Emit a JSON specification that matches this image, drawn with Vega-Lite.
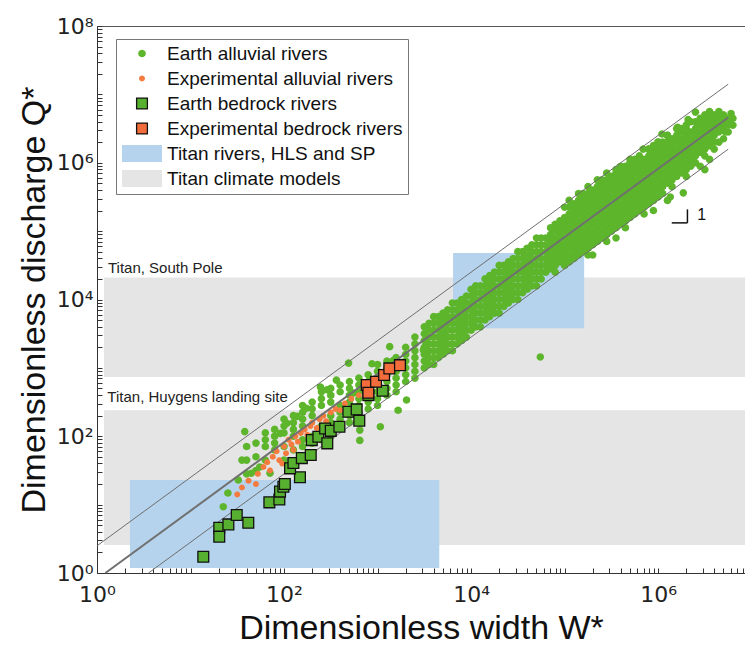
{
"$schema":"https://vega.github.io/schema/vega-lite/v6.json",
"width":648,"height":547,
"autosize":{"type":"none"},
"padding":{"left":97,"top":26,"right":0,"bottom":83},
"config":{"font":"Liberation Sans","view":{"stroke":"#555","strokeWidth":1},"axis":{"labelFont":"DejaVu Sans","titleFont":"Liberation Sans"}},
"datasets":{
"rects":[
{"s":"TC","w":1.19,"w2":8.5e6,"q":735,"q2":2.1e4},
{"s":"TC","w":1.19,"w2":8.5e6,"q":2.57,"q2":240},
{"s":"TR","w":2.25,"w2":4570,"q":1.18,"q2":22.9},
{"s":"TR","w":6420,"w2":1.62e5,"q":3810,"q2":4.8e4}
],
"labels":[
{"label":"Titan, South Pole","w":1.31,"q":2.88e4},
{"label":"Titan, Huygens landing site","w":1.29,"q":374}
],
"lines":[
{"line":"upper","w":1,"q":2.5},{"line":"upper","w":5.62e6,"q":1.41e7},
{"line":"middle","w":1.23,"q":1},{"line":"middle","w":5.62e6,"q":4.6e6},
{"line":"lower","w":3.55,"q":1},{"line":"lower","w":5.62e6,"q":1.58e6}
],
"slope":[
{"w":1.40e6,"w2":2.06e6,"q":1.32e5,"q2":1.32e5},
{"w":2.06e6,"w2":2.06e6,"q":1.32e5,"q2":2.08e5}
],
"slopetext":[{"t":"1","w":2.63e6,"q":1.71e5}],
"bedrock":[
{"s":"EB","w":13.7,"q":1.73},{"s":"EB","w":20.3,"q":4.59},{"s":"EB","w":20.3,"q":3.40},{"s":"EB","w":25.4,"q":5.14},{"s":"EB","w":31.2,"q":7.05},{"s":"EB","w":41.5,"q":5.43},{"s":"EB","w":69.7,"q":10.8},{"s":"EB","w":89.1,"q":11.9},{"s":"EB","w":90.6,"q":15.5},{"s":"EB","w":98.4,"q":18.3},{"s":"EB","w":102,"q":20.0},{"s":"EB","w":148,"q":25.1},{"s":"EB","w":116,"q":33.9},{"s":"EB","w":126,"q":40.7},{"s":"EB","w":155,"q":47.9},{"s":"EB","w":193,"q":53.1},{"s":"EB","w":198,"q":87.9},{"s":"EB","w":233,"q":98.4},{"s":"EB","w":290,"q":78.7},{"s":"EB","w":275,"q":130},{"s":"EB","w":316,"q":120},{"s":"EB","w":391,"q":138},{"s":"EB","w":488,"q":228},{"s":"EB","w":598,"q":247},{"s":"EB","w":638,"q":169},{"s":"EB","w":798,"q":400},{"s":"EB","w":1135,"q":462},
{"s":"XB","w":766,"q":561},{"s":"XB","w":964,"q":627},{"s":"XB","w":1175,"q":785},{"s":"XB","w":1337,"q":982},{"s":"XB","w":1738,"q":1096},{"s":"XB","w":798,"q":433}
],
"alluvial":[
{"s":"EA","w":22.4,"q":9.33},{"s":"EA","w":25.1,"q":14.8},{"s":"EA","w":32.4,"q":22.9},{"s":"EA","w":35.5,"q":44.7},{"s":"EA","w":38.0,"q":117},{"s":"EA","w":44.7,"q":28.8},{"s":"EA","w":55.0,"q":35.5},{"s":"EA","w":70.8,"q":28.8},{"s":"EA","w":91.2,"q":110},{"s":"EA","w":107,"q":155},{"s":"EA","w":138,"q":195},{"s":"EA","w":174,"q":257},{"s":"EA","w":245,"q":525},{"s":"EA","w":288,"q":479},{"s":"EA","w":363,"q":661},{"s":"EA","w":490,"q":1175},{"s":"EA","w":550,"q":427},{"s":"EA","w":646,"q":123},{"s":"EA","w":646,"q":87.1},{"s":"EA","w":871,"q":1148},{"s":"EA","w":1072,"q":138},{"s":"EA","w":1349,"q":2042},{"s":"EA","w":1479,"q":1288},{"s":"EA","w":1660,"q":240},{"s":"EA","w":2042,"q":339},{"s":"EA","w":3090,"q":1820},{"s":"EA","w":5.5e4,"q":1445},
{"s":"EA","w":39.8,"q":28.2},{"s":"EA","w":39.8,"q":44.7},{"s":"EA","w":39.8,"q":70.8},
{"s":"EA","w":50.1,"q":31.6},{"s":"EA","w":50.1,"q":50.1},{"s":"EA","w":50.1,"q":79.4},
{"s":"EA","w":63.1,"q":44.7},{"s":"EA","w":63.1,"q":70.8},{"s":"EA","w":63.1,"q":89.1},{"s":"EA","w":63.1,"q":112},
{"s":"EA","w":79.4,"q":63.1},{"s":"EA","w":79.4,"q":79.4},{"s":"EA","w":79.4,"q":100},{"s":"EA","w":79.4,"q":126},
{"s":"EA","w":100,"q":44.7},{"s":"EA","w":100,"q":70.8},{"s":"EA","w":100,"q":112},{"s":"EA","w":100,"q":141},{"s":"EA","w":100,"q":178},
{"s":"EA","w":126,"q":63.1},{"s":"EA","w":126,"q":100},{"s":"EA","w":126,"q":126},{"s":"EA","w":126,"q":158},{"s":"EA","w":126,"q":200},
{"s":"EA","w":158,"q":70.8},{"s":"EA","w":158,"q":89.1},{"s":"EA","w":158,"q":141},{"s":"EA","w":158,"q":178},{"s":"EA","w":158,"q":224},{"s":"EA","w":158,"q":282},
{"s":"EA","w":200,"q":79.4},{"s":"EA","w":200,"q":100},{"s":"EA","w":200,"q":200},{"s":"EA","w":200,"q":251},{"s":"EA","w":200,"q":316},
{"s":"EA","w":251,"q":89.1},{"s":"EA","w":251,"q":112},{"s":"EA","w":251,"q":141},{"s":"EA","w":251,"q":282},{"s":"EA","w":251,"q":355},{"s":"EA","w":251,"q":447},
{"s":"EA","w":316,"q":100},{"s":"EA","w":316,"q":126},{"s":"EA","w":316,"q":158},{"s":"EA","w":316,"q":200},{"s":"EA","w":316,"q":316},{"s":"EA","w":316,"q":398},{"s":"EA","w":316,"q":501},
{"s":"EA","w":398,"q":141},{"s":"EA","w":398,"q":178},{"s":"EA","w":398,"q":224},{"s":"EA","w":398,"q":282},{"s":"EA","w":398,"q":447},{"s":"EA","w":398,"q":562},
{"s":"EA","w":501,"q":158},{"s":"EA","w":501,"q":200},{"s":"EA","w":501,"q":251},{"s":"EA","w":501,"q":316},{"s":"EA","w":501,"q":398},{"s":"EA","w":501,"q":501},{"s":"EA","w":501,"q":631},
{"s":"EA","w":631,"q":178},{"s":"EA","w":631,"q":224},{"s":"EA","w":631,"q":282},{"s":"EA","w":631,"q":355},{"s":"EA","w":631,"q":447},{"s":"EA","w":631,"q":562},{"s":"EA","w":631,"q":708},
{"s":"EA","w":794,"q":251},{"s":"EA","w":794,"q":316},{"s":"EA","w":794,"q":398},{"s":"EA","w":794,"q":501},{"s":"EA","w":794,"q":631},{"s":"EA","w":794,"q":794},
{"s":"EA","w":1000,"q":282},{"s":"EA","w":1000,"q":355},{"s":"EA","w":1000,"q":447},{"s":"EA","w":1000,"q":562},{"s":"EA","w":1000,"q":708},{"s":"EA","w":1000,"q":891},{"s":"EA","w":1000,"q":1120},
{"s":"EA","w":1260,"q":398},{"s":"EA","w":1260,"q":501},{"s":"EA","w":1260,"q":631},{"s":"EA","w":1260,"q":794},{"s":"EA","w":1260,"q":1000},{"s":"EA","w":1260,"q":1260},
{"s":"EA","w":1580,"q":447},{"s":"EA","w":1580,"q":562},{"s":"EA","w":1580,"q":708},{"s":"EA","w":1580,"q":891},{"s":"EA","w":1580,"q":1120},{"s":"EA","w":1580,"q":1410},
{"s":"EA","w":2000,"q":631},{"s":"EA","w":2000,"q":794},{"s":"EA","w":2000,"q":1000},{"s":"EA","w":2000,"q":1260},{"s":"EA","w":2000,"q":1580},{"s":"EA","w":2000,"q":2000},
{"s":"EA","w":2510,"q":708},{"s":"EA","w":2510,"q":891},{"s":"EA","w":2510,"q":1120},{"s":"EA","w":2510,"q":1410},{"s":"EA","w":2510,"q":1780},{"s":"EA","w":2510,"q":2240},{"s":"EA","w":2510,"q":2820},
{"s":"EA","w":3160,"q":1000},{"s":"EA","w":3160,"q":1260},{"s":"EA","w":3160,"q":1580},{"s":"EA","w":3160,"q":2000},{"s":"EA","w":3160,"q":2510},{"s":"EA","w":3160,"q":3160},{"s":"EA","w":3160,"q":3980},
{"s":"EA","w":3550,"q":1120},{"s":"EA","w":3550,"q":1410},{"s":"EA","w":3550,"q":1780},{"s":"EA","w":3550,"q":2240},{"s":"EA","w":3550,"q":2820},{"s":"EA","w":3550,"q":3550},{"s":"EA","w":3550,"q":4470},
{"s":"EA","w":3980,"q":1120},{"s":"EA","w":3980,"q":1410},{"s":"EA","w":3980,"q":1780},{"s":"EA","w":3980,"q":2240},{"s":"EA","w":3980,"q":2820},{"s":"EA","w":3980,"q":3550},{"s":"EA","w":3980,"q":4470},{"s":"EA","w":3980,"q":5620},
{"s":"EA","w":4470,"q":1410},{"s":"EA","w":4470,"q":1780},{"s":"EA","w":4470,"q":2240},{"s":"EA","w":4470,"q":2820},{"s":"EA","w":4470,"q":3550},{"s":"EA","w":4470,"q":4470},{"s":"EA","w":4470,"q":5620},
{"s":"EA","w":5010,"q":1580},{"s":"EA","w":5010,"q":2000},{"s":"EA","w":5010,"q":2510},{"s":"EA","w":5010,"q":3160},{"s":"EA","w":5010,"q":3980},{"s":"EA","w":5010,"q":5010},{"s":"EA","w":5010,"q":6310},
{"s":"EA","w":5620,"q":1780},{"s":"EA","w":5620,"q":2240},{"s":"EA","w":5620,"q":2820},{"s":"EA","w":5620,"q":3550},{"s":"EA","w":5620,"q":4470},{"s":"EA","w":5620,"q":5620},{"s":"EA","w":5620,"q":7080},
{"s":"EA","w":6310,"q":1780},{"s":"EA","w":6310,"q":2240},{"s":"EA","w":6310,"q":2820},{"s":"EA","w":6310,"q":3550},{"s":"EA","w":6310,"q":4470},{"s":"EA","w":6310,"q":5620},{"s":"EA","w":6310,"q":7080},{"s":"EA","w":6310,"q":8910},
{"s":"EA","w":7080,"q":2240},{"s":"EA","w":7080,"q":2820},{"s":"EA","w":7080,"q":3550},{"s":"EA","w":7080,"q":4470},{"s":"EA","w":7080,"q":5620},{"s":"EA","w":7080,"q":7080},{"s":"EA","w":7080,"q":8910},
{"s":"EA","w":7940,"q":2510},{"s":"EA","w":7940,"q":3160},{"s":"EA","w":7940,"q":3980},{"s":"EA","w":7940,"q":5010},{"s":"EA","w":7940,"q":6310},{"s":"EA","w":7940,"q":7940},{"s":"EA","w":7940,"q":10000},
{"s":"EA","w":8910,"q":2820},{"s":"EA","w":8910,"q":3550},{"s":"EA","w":8910,"q":4470},{"s":"EA","w":8910,"q":5620},{"s":"EA","w":8910,"q":7080},{"s":"EA","w":8910,"q":8910},{"s":"EA","w":8910,"q":11200},
{"s":"EA","w":10000,"q":3550},{"s":"EA","w":10000,"q":4470},{"s":"EA","w":10000,"q":5620},{"s":"EA","w":10000,"q":7080},{"s":"EA","w":10000,"q":8910},{"s":"EA","w":10000,"q":11200},{"s":"EA","w":10000,"q":14100},
{"s":"EA","w":11200,"q":3980},{"s":"EA","w":11200,"q":5010},{"s":"EA","w":11200,"q":6310},{"s":"EA","w":11200,"q":7940},{"s":"EA","w":11200,"q":10000},{"s":"EA","w":11200,"q":12600},{"s":"EA","w":11200,"q":15800},
{"s":"EA","w":12600,"q":3980},{"s":"EA","w":12600,"q":5010},{"s":"EA","w":12600,"q":6310},{"s":"EA","w":12600,"q":7940},{"s":"EA","w":12600,"q":10000},{"s":"EA","w":12600,"q":12600},{"s":"EA","w":12600,"q":15800},
{"s":"EA","w":14100,"q":5010},{"s":"EA","w":14100,"q":6310},{"s":"EA","w":14100,"q":7940},{"s":"EA","w":14100,"q":10000},{"s":"EA","w":14100,"q":12600},{"s":"EA","w":14100,"q":15800},{"s":"EA","w":14100,"q":20000},
{"s":"EA","w":15800,"q":5620},{"s":"EA","w":15800,"q":7080},{"s":"EA","w":15800,"q":8910},{"s":"EA","w":15800,"q":11200},{"s":"EA","w":15800,"q":14100},{"s":"EA","w":15800,"q":17800},{"s":"EA","w":15800,"q":22400},
{"s":"EA","w":17800,"q":6310},{"s":"EA","w":17800,"q":7940},{"s":"EA","w":17800,"q":10000},{"s":"EA","w":17800,"q":12600},{"s":"EA","w":17800,"q":15800},{"s":"EA","w":17800,"q":20000},{"s":"EA","w":17800,"q":25100},
{"s":"EA","w":20000,"q":6310},{"s":"EA","w":20000,"q":7940},{"s":"EA","w":20000,"q":10000},{"s":"EA","w":20000,"q":12600},{"s":"EA","w":20000,"q":15800},{"s":"EA","w":20000,"q":20000},{"s":"EA","w":20000,"q":25100},{"s":"EA","w":20000,"q":31600},
{"s":"EA","w":22400,"q":7940},{"s":"EA","w":22400,"q":10000},{"s":"EA","w":22400,"q":12600},{"s":"EA","w":22400,"q":15800},{"s":"EA","w":22400,"q":20000},{"s":"EA","w":22400,"q":25100},{"s":"EA","w":22400,"q":31600},
{"s":"EA","w":25100,"q":8910},{"s":"EA","w":25100,"q":11200},{"s":"EA","w":25100,"q":14100},{"s":"EA","w":25100,"q":17800},{"s":"EA","w":25100,"q":22400},{"s":"EA","w":25100,"q":28200},{"s":"EA","w":25100,"q":35500},
{"s":"EA","w":28200,"q":10000},{"s":"EA","w":28200,"q":12600},{"s":"EA","w":28200,"q":15800},{"s":"EA","w":28200,"q":20000},{"s":"EA","w":28200,"q":25100},{"s":"EA","w":28200,"q":31600},{"s":"EA","w":28200,"q":39800},
{"s":"EA","w":31600,"q":10000},{"s":"EA","w":31600,"q":12600},{"s":"EA","w":31600,"q":15800},{"s":"EA","w":31600,"q":20000},{"s":"EA","w":31600,"q":25100},{"s":"EA","w":31600,"q":31600},{"s":"EA","w":31600,"q":39800},{"s":"EA","w":31600,"q":50100},
{"s":"EA","w":35500,"q":12600},{"s":"EA","w":35500,"q":15800},{"s":"EA","w":35500,"q":20000},{"s":"EA","w":35500,"q":25100},{"s":"EA","w":35500,"q":31600},{"s":"EA","w":35500,"q":39800},{"s":"EA","w":35500,"q":50100},
{"s":"EA","w":39800,"q":14100},{"s":"EA","w":39800,"q":17800},{"s":"EA","w":39800,"q":22400},{"s":"EA","w":39800,"q":28200},{"s":"EA","w":39800,"q":35500},{"s":"EA","w":39800,"q":44700},{"s":"EA","w":39800,"q":56200},
{"s":"EA","w":44700,"q":15800},{"s":"EA","w":44700,"q":20000},{"s":"EA","w":44700,"q":25100},{"s":"EA","w":44700,"q":31600},{"s":"EA","w":44700,"q":39800},{"s":"EA","w":44700,"q":50100},{"s":"EA","w":44700,"q":63100},
{"s":"EA","w":50100,"q":15800},{"s":"EA","w":50100,"q":20000},{"s":"EA","w":50100,"q":25100},{"s":"EA","w":50100,"q":31600},{"s":"EA","w":50100,"q":39800},{"s":"EA","w":50100,"q":50100},{"s":"EA","w":50100,"q":63100},{"s":"EA","w":50100,"q":79400},
{"s":"EA","w":56200,"q":20000},{"s":"EA","w":56200,"q":25100},{"s":"EA","w":56200,"q":31600},{"s":"EA","w":56200,"q":39800},{"s":"EA","w":56200,"q":50100},{"s":"EA","w":56200,"q":63100},{"s":"EA","w":56200,"q":79400},
{"s":"EA","w":6.31e4,"q":2.51e4},{"s":"EA","w":6.31e4,"q":3.16e4},{"s":"EA","w":6.31e4,"q":3.98e4},{"s":"EA","w":6.31e4,"q":5.01e4},{"s":"EA","w":6.31e4,"q":6.31e4},{"s":"EA","w":6.31e4,"q":7.94e4},
{"s":"EA","w":7.08e4,"q":2.82e4},{"s":"EA","w":7.08e4,"q":3.55e4},{"s":"EA","w":7.08e4,"q":4.47e4},{"s":"EA","w":7.08e4,"q":5.62e4},{"s":"EA","w":7.08e4,"q":7.08e4},{"s":"EA","w":7.08e4,"q":8.91e4},{"s":"EA","w":7.08e4,"q":1.12e5},
{"s":"EA","w":7.94e4,"q":2.51e4},{"s":"EA","w":7.94e4,"q":3.16e4},{"s":"EA","w":7.94e4,"q":3.98e4},{"s":"EA","w":7.94e4,"q":5.01e4},{"s":"EA","w":7.94e4,"q":6.31e4},{"s":"EA","w":7.94e4,"q":7.94e4},{"s":"EA","w":7.94e4,"q":1e5},{"s":"EA","w":7.94e4,"q":1.26e5},
{"s":"EA","w":8.91e4,"q":3.55e4},{"s":"EA","w":8.91e4,"q":4.47e4},{"s":"EA","w":8.91e4,"q":5.62e4},{"s":"EA","w":8.91e4,"q":7.08e4},{"s":"EA","w":8.91e4,"q":8.91e4},{"s":"EA","w":8.91e4,"q":1.12e5},{"s":"EA","w":8.91e4,"q":1.41e5},
{"s":"EA","w":1e5,"q":3.16e4},{"s":"EA","w":1e5,"q":3.98e4},{"s":"EA","w":1e5,"q":5.01e4},{"s":"EA","w":1e5,"q":6.31e4},{"s":"EA","w":1e5,"q":7.94e4},{"s":"EA","w":1e5,"q":1e5},{"s":"EA","w":1e5,"q":1.26e5},{"s":"EA","w":1e5,"q":1.58e5},
{"s":"EA","w":1.12e5,"q":3.55e4},{"s":"EA","w":1.12e5,"q":4.47e4},{"s":"EA","w":1.12e5,"q":5.62e4},{"s":"EA","w":1.12e5,"q":7.08e4},{"s":"EA","w":1.12e5,"q":8.91e4},{"s":"EA","w":1.12e5,"q":1.12e5},{"s":"EA","w":1.12e5,"q":1.41e5},{"s":"EA","w":1.12e5,"q":1.78e5},{"s":"EA","w":1.12e5,"q":2.24e5},
{"s":"EA","w":1.26e5,"q":3.98e4},{"s":"EA","w":1.26e5,"q":5.01e4},{"s":"EA","w":1.26e5,"q":6.31e4},{"s":"EA","w":1.26e5,"q":7.94e4},{"s":"EA","w":1.26e5,"q":1e5},{"s":"EA","w":1.26e5,"q":1.26e5},{"s":"EA","w":1.26e5,"q":1.58e5},{"s":"EA","w":1.26e5,"q":2e5},{"s":"EA","w":1.26e5,"q":2.51e5},
{"s":"EA","w":1.41e5,"q":4.47e4},{"s":"EA","w":1.41e5,"q":5.62e4},{"s":"EA","w":1.41e5,"q":7.08e4},{"s":"EA","w":1.41e5,"q":8.91e4},{"s":"EA","w":1.41e5,"q":1.12e5},{"s":"EA","w":1.41e5,"q":1.41e5},{"s":"EA","w":1.41e5,"q":1.78e5},{"s":"EA","w":1.41e5,"q":2.24e5},{"s":"EA","w":1.41e5,"q":2.82e5},
{"s":"EA","w":1.58e5,"q":5.01e4},{"s":"EA","w":1.58e5,"q":6.31e4},{"s":"EA","w":1.58e5,"q":7.94e4},{"s":"EA","w":1.58e5,"q":1e5},{"s":"EA","w":1.58e5,"q":1.26e5},{"s":"EA","w":1.58e5,"q":1.58e5},{"s":"EA","w":1.58e5,"q":2e5},{"s":"EA","w":1.58e5,"q":2.51e5},{"s":"EA","w":1.58e5,"q":3.16e5},
{"s":"EA","w":1.78e5,"q":4.47e4},{"s":"EA","w":1.78e5,"q":5.62e4},{"s":"EA","w":1.78e5,"q":7.08e4},{"s":"EA","w":1.78e5,"q":8.91e4},{"s":"EA","w":1.78e5,"q":1.12e5},{"s":"EA","w":1.78e5,"q":1.41e5},{"s":"EA","w":1.78e5,"q":1.78e5},{"s":"EA","w":1.78e5,"q":2.24e5},{"s":"EA","w":1.78e5,"q":2.82e5},{"s":"EA","w":1.78e5,"q":3.55e5},
{"s":"EA","w":2e5,"q":6.31e4},{"s":"EA","w":2e5,"q":7.94e4},{"s":"EA","w":2e5,"q":1e5},{"s":"EA","w":2e5,"q":1.26e5},{"s":"EA","w":2e5,"q":1.58e5},{"s":"EA","w":2e5,"q":2e5},{"s":"EA","w":2e5,"q":2.51e5},{"s":"EA","w":2e5,"q":3.16e5},{"s":"EA","w":2e5,"q":3.98e5},
{"s":"EA","w":2.24e5,"q":7.08e4},{"s":"EA","w":2.24e5,"q":8.91e4},{"s":"EA","w":2.24e5,"q":1.12e5},{"s":"EA","w":2.24e5,"q":1.41e5},{"s":"EA","w":2.24e5,"q":1.78e5},{"s":"EA","w":2.24e5,"q":2.24e5},{"s":"EA","w":2.24e5,"q":2.82e5},{"s":"EA","w":2.24e5,"q":3.55e5},{"s":"EA","w":2.24e5,"q":4.47e5},
{"s":"EA","w":2.51e5,"q":7.94e4},{"s":"EA","w":2.51e5,"q":1e5},{"s":"EA","w":2.51e5,"q":1.26e5},{"s":"EA","w":2.51e5,"q":1.58e5},{"s":"EA","w":2.51e5,"q":2e5},{"s":"EA","w":2.51e5,"q":2.51e5},{"s":"EA","w":2.51e5,"q":3.16e5},{"s":"EA","w":2.51e5,"q":3.98e5},{"s":"EA","w":2.51e5,"q":5.01e5},
{"s":"EA","w":2.82e5,"q":7.08e4},{"s":"EA","w":2.82e5,"q":8.91e4},{"s":"EA","w":2.82e5,"q":1.12e5},{"s":"EA","w":2.82e5,"q":1.41e5},{"s":"EA","w":2.82e5,"q":1.78e5},{"s":"EA","w":2.82e5,"q":2.24e5},{"s":"EA","w":2.82e5,"q":2.82e5},{"s":"EA","w":2.82e5,"q":3.55e5},{"s":"EA","w":2.82e5,"q":4.47e5},{"s":"EA","w":2.82e5,"q":5.62e5},
{"s":"EA","w":3.16e5,"q":1e5},{"s":"EA","w":3.16e5,"q":1.26e5},{"s":"EA","w":3.16e5,"q":1.58e5},{"s":"EA","w":3.16e5,"q":2e5},{"s":"EA","w":3.16e5,"q":2.51e5},{"s":"EA","w":3.16e5,"q":3.16e5},{"s":"EA","w":3.16e5,"q":3.98e5},{"s":"EA","w":3.16e5,"q":5.01e5},{"s":"EA","w":3.16e5,"q":6.31e5},
{"s":"EA","w":3.55e5,"q":1.12e5},{"s":"EA","w":3.55e5,"q":1.41e5},{"s":"EA","w":3.55e5,"q":1.78e5},{"s":"EA","w":3.55e5,"q":2.24e5},{"s":"EA","w":3.55e5,"q":2.82e5},{"s":"EA","w":3.55e5,"q":3.55e5},{"s":"EA","w":3.55e5,"q":4.47e5},{"s":"EA","w":3.55e5,"q":5.62e5},{"s":"EA","w":3.55e5,"q":7.08e5},
{"s":"EA","w":3.98e5,"q":1.26e5},{"s":"EA","w":3.98e5,"q":1.58e5},{"s":"EA","w":3.98e5,"q":2e5},{"s":"EA","w":3.98e5,"q":2.51e5},{"s":"EA","w":3.98e5,"q":3.16e5},{"s":"EA","w":3.98e5,"q":3.98e5},{"s":"EA","w":3.98e5,"q":5.01e5},{"s":"EA","w":3.98e5,"q":6.31e5},{"s":"EA","w":3.98e5,"q":7.94e5},
{"s":"EA","w":4.47e5,"q":1.12e5},{"s":"EA","w":4.47e5,"q":1.41e5},{"s":"EA","w":4.47e5,"q":1.78e5},{"s":"EA","w":4.47e5,"q":2.24e5},{"s":"EA","w":4.47e5,"q":2.82e5},{"s":"EA","w":4.47e5,"q":3.55e5},{"s":"EA","w":4.47e5,"q":4.47e5},{"s":"EA","w":4.47e5,"q":5.62e5},{"s":"EA","w":4.47e5,"q":7.08e5},{"s":"EA","w":4.47e5,"q":8.91e5},
{"s":"EA","w":5.01e5,"q":1.58e5},{"s":"EA","w":5.01e5,"q":2e5},{"s":"EA","w":5.01e5,"q":2.51e5},{"s":"EA","w":5.01e5,"q":3.16e5},{"s":"EA","w":5.01e5,"q":3.98e5},{"s":"EA","w":5.01e5,"q":5.01e5},{"s":"EA","w":5.01e5,"q":6.31e5},{"s":"EA","w":5.01e5,"q":7.94e5},{"s":"EA","w":5.01e5,"q":1e6},
{"s":"EA","w":5.62e5,"q":1.78e5},{"s":"EA","w":5.62e5,"q":2.24e5},{"s":"EA","w":5.62e5,"q":2.82e5},{"s":"EA","w":5.62e5,"q":3.55e5},{"s":"EA","w":5.62e5,"q":4.47e5},{"s":"EA","w":5.62e5,"q":5.62e5},{"s":"EA","w":5.62e5,"q":7.08e5},{"s":"EA","w":5.62e5,"q":8.91e5},{"s":"EA","w":5.62e5,"q":1.12e6},
{"s":"EA","w":6.31e5,"q":2e5},{"s":"EA","w":6.31e5,"q":2.51e5},{"s":"EA","w":6.31e5,"q":3.16e5},{"s":"EA","w":6.31e5,"q":3.98e5},{"s":"EA","w":6.31e5,"q":5.01e5},{"s":"EA","w":6.31e5,"q":6.31e5},{"s":"EA","w":6.31e5,"q":7.94e5},{"s":"EA","w":6.31e5,"q":1e6},{"s":"EA","w":6.31e5,"q":1.26e6},
{"s":"EA","w":7.08e5,"q":1.78e5},{"s":"EA","w":7.08e5,"q":2.24e5},{"s":"EA","w":7.08e5,"q":2.82e5},{"s":"EA","w":7.08e5,"q":3.55e5},{"s":"EA","w":7.08e5,"q":4.47e5},{"s":"EA","w":7.08e5,"q":5.62e5},{"s":"EA","w":7.08e5,"q":7.08e5},{"s":"EA","w":7.08e5,"q":8.91e5},{"s":"EA","w":7.08e5,"q":1.12e6},
{"s":"EA","w":7.94e5,"q":2.51e5},{"s":"EA","w":7.94e5,"q":3.16e5},{"s":"EA","w":7.94e5,"q":3.98e5},{"s":"EA","w":7.94e5,"q":5.01e5},{"s":"EA","w":7.94e5,"q":6.31e5},{"s":"EA","w":7.94e5,"q":7.94e5},{"s":"EA","w":7.94e5,"q":1e6},{"s":"EA","w":7.94e5,"q":1.26e6},{"s":"EA","w":7.94e5,"q":1.58e6},
{"s":"EA","w":8.91e5,"q":2.82e5},{"s":"EA","w":8.91e5,"q":3.55e5},{"s":"EA","w":8.91e5,"q":4.47e5},{"s":"EA","w":8.91e5,"q":5.62e5},{"s":"EA","w":8.91e5,"q":7.08e5},{"s":"EA","w":8.91e5,"q":8.91e5},{"s":"EA","w":8.91e5,"q":1.12e6},{"s":"EA","w":8.91e5,"q":1.41e6},{"s":"EA","w":8.91e5,"q":1.78e6},
{"s":"EA","w":1e6,"q":3.16e5},{"s":"EA","w":1e6,"q":3.98e5},{"s":"EA","w":1e6,"q":5.01e5},{"s":"EA","w":1e6,"q":6.31e5},{"s":"EA","w":1e6,"q":7.94e5},{"s":"EA","w":1e6,"q":1e6},{"s":"EA","w":1e6,"q":1.26e6},{"s":"EA","w":1e6,"q":1.58e6},{"s":"EA","w":1e6,"q":2e6},
{"s":"EA","w":1.12e6,"q":3.55e5},{"s":"EA","w":1.12e6,"q":4.47e5},{"s":"EA","w":1.12e6,"q":5.62e5},{"s":"EA","w":1.12e6,"q":7.08e5},{"s":"EA","w":1.12e6,"q":8.91e5},{"s":"EA","w":1.12e6,"q":1.12e6},{"s":"EA","w":1.12e6,"q":1.41e6},{"s":"EA","w":1.12e6,"q":1.78e6},
{"s":"EA","w":1.26e6,"q":5.01e5},{"s":"EA","w":1.26e6,"q":6.31e5},{"s":"EA","w":1.26e6,"q":7.94e5},{"s":"EA","w":1.26e6,"q":1e6},{"s":"EA","w":1.26e6,"q":1.26e6},{"s":"EA","w":1.26e6,"q":1.58e6},{"s":"EA","w":1.26e6,"q":2e6},{"s":"EA","w":1.26e6,"q":2.51e6},
{"s":"EA","w":1.41e6,"q":4.47e5},{"s":"EA","w":1.41e6,"q":5.62e5},{"s":"EA","w":1.41e6,"q":7.08e5},{"s":"EA","w":1.41e6,"q":8.91e5},{"s":"EA","w":1.41e6,"q":1.12e6},{"s":"EA","w":1.41e6,"q":1.41e6},{"s":"EA","w":1.41e6,"q":1.78e6},{"s":"EA","w":1.41e6,"q":2.24e6},
{"s":"EA","w":1.58e6,"q":6.31e5},{"s":"EA","w":1.58e6,"q":7.94e5},{"s":"EA","w":1.58e6,"q":1e6},{"s":"EA","w":1.58e6,"q":1.26e6},{"s":"EA","w":1.58e6,"q":1.58e6},{"s":"EA","w":1.58e6,"q":2e6},{"s":"EA","w":1.58e6,"q":2.51e6},
{"s":"EA","w":1.78e6,"q":7.08e5},{"s":"EA","w":1.78e6,"q":8.91e5},{"s":"EA","w":1.78e6,"q":1.12e6},{"s":"EA","w":1.78e6,"q":1.41e6},{"s":"EA","w":1.78e6,"q":1.78e6},{"s":"EA","w":1.78e6,"q":2.24e6},{"s":"EA","w":1.78e6,"q":2.82e6},
{"s":"EA","w":2e6,"q":6.31e5},{"s":"EA","w":2e6,"q":7.94e5},{"s":"EA","w":2e6,"q":1e6},{"s":"EA","w":2e6,"q":1.26e6},{"s":"EA","w":2e6,"q":1.58e6},{"s":"EA","w":2e6,"q":2e6},{"s":"EA","w":2e6,"q":2.51e6},{"s":"EA","w":2e6,"q":3.16e6},
{"s":"EA","w":2.24e6,"q":8.91e5},{"s":"EA","w":2.24e6,"q":1.12e6},{"s":"EA","w":2.24e6,"q":1.41e6},{"s":"EA","w":2.24e6,"q":1.78e6},{"s":"EA","w":2.24e6,"q":2.24e6},{"s":"EA","w":2.24e6,"q":2.82e6},
{"s":"EA","w":2.51e6,"q":1e6},{"s":"EA","w":2.51e6,"q":1.26e6},{"s":"EA","w":2.51e6,"q":1.58e6},{"s":"EA","w":2.51e6,"q":2e6},{"s":"EA","w":2.51e6,"q":2.51e6},{"s":"EA","w":2.51e6,"q":3.16e6},
{"s":"EA","w":2.82e6,"q":1.41e6},{"s":"EA","w":2.82e6,"q":1.78e6},{"s":"EA","w":2.82e6,"q":2.24e6},{"s":"EA","w":2.82e6,"q":2.82e6},{"s":"EA","w":2.82e6,"q":3.55e6},
{"s":"EA","w":3.16e6,"q":1.26e6},{"s":"EA","w":3.16e6,"q":1.58e6},{"s":"EA","w":3.16e6,"q":2e6},{"s":"EA","w":3.16e6,"q":2.51e6},{"s":"EA","w":3.16e6,"q":3.16e6},{"s":"EA","w":3.16e6,"q":3.98e6},
{"s":"EA","w":3.55e6,"q":1.78e6},{"s":"EA","w":3.55e6,"q":2.24e6},{"s":"EA","w":3.55e6,"q":2.82e6},{"s":"EA","w":3.55e6,"q":3.55e6},{"s":"EA","w":3.55e6,"q":4.47e6},
{"s":"EA","w":3.98e6,"q":2e6},{"s":"EA","w":3.98e6,"q":2.51e6},{"s":"EA","w":3.98e6,"q":3.16e6},{"s":"EA","w":3.98e6,"q":3.98e6},
{"s":"EA","w":4.47e6,"q":2.82e6},{"s":"EA","w":4.47e6,"q":3.55e6},{"s":"EA","w":4.47e6,"q":4.47e6},{"s":"EA","w":4.47e6,"q":5.62e6},
{"s":"EA","w":5.01e6,"q":3.16e6},{"s":"EA","w":5.01e6,"q":3.98e6},{"s":"EA","w":5.01e6,"q":5.01e6},
{"s":"EA","w":6.03e6,"q":5.25e6},{"s":"EA","w":2.51e6,"q":5.5e6},{"s":"EA","w":2.09e6,"q":4.27e6},{"s":"EA","w":1.62e6,"q":3.31e6},{"s":"EA","w":1.10e6,"q":2.63e6},{"s":"EA","w":6.92e5,"q":1.58e6},{"s":"EA","w":3.98e5,"q":8.91e5},{"s":"EA","w":2.51e5,"q":5.62e5},{"s":"EA","w":1.58e5,"q":3.55e5},{"s":"EA","w":1e5,"q":2.24e5},{"s":"EA","w":1.86e6,"q":3.63e5},{"s":"EA","w":1.26e6,"q":2.82e5},{"s":"EA","w":8.91e5,"q":2.0e5},{"s":"EA","w":3.16e6,"q":7.94e5},{"s":"EA","w":5.25e6,"q":2.82e6},{"s":"EA","w":5.62e6,"q":3.98e6},{"s":"EA","w":3.55e5,"q":7.94e4},{"s":"EA","w":2.0e5,"q":4.47e4},
{"s":"EA","w":1.12e5,"q":2.82e5},{"s":"EA","w":1.41e5,"q":3.55e5},{"s":"EA","w":1.78e5,"q":4.47e5},{"s":"EA","w":2.24e5,"q":5.62e5},{"s":"EA","w":2.82e5,"q":7.08e5},{"s":"EA","w":3.55e5,"q":7.94e5},{"s":"EA","w":5.01e5,"q":1.12e6},
{"s":"EA","w":7.94e5,"q":1.58e6},{"s":"EA","w":1e6,"q":2e6},{"s":"EA","w":1.12e6,"q":2e6},{"s":"EA","w":1.26e6,"q":2.51e6},{"s":"EA","w":1.58e6,"q":3.16e6},{"s":"EA","w":1.78e6,"q":3.16e6},{"s":"EA","w":2e6,"q":3.55e6},{"s":"EA","w":2.24e6,"q":3.98e6},{"s":"EA","w":2.51e6,"q":3.98e6},{"s":"EA","w":2.82e6,"q":4.47e6},{"s":"EA","w":3.16e6,"q":5.01e6},{"s":"EA","w":3.55e6,"q":5.62e6},{"s":"EA","w":3.98e6,"q":5.01e6},
{"s":"EA","w":5.62e6,"q":2.82e6},{"s":"EA","w":5.62e6,"q":3.55e6},{"s":"EA","w":5.62e6,"q":4.47e6},{"s":"EA","w":6.31e6,"q":3.55e6},{"s":"EA","w":6.31e6,"q":4.47e6},{"s":"EA","w":5.01e6,"q":2.24e6},{"s":"EA","w":4.47e6,"q":2e6},{"s":"EA","w":3.98e6,"q":1.58e6},
{"s":"EA","w":1.35e6,"q":3.16e5},{"s":"EA","w":2.82e6,"q":8.91e5},{"s":"EA","w":3.55e6,"q":1.12e6},
{"s":"XA","w":31.6,"q":14.1},{"s":"XA","w":35.5,"q":17.8},{"s":"XA","w":41.7,"q":22.4},{"s":"XA","w":50.1,"q":20.0},{"s":"XA","w":52.5,"q":28.2},{"s":"XA","w":60.3,"q":35.5},{"s":"XA","w":66.1,"q":41.7},{"s":"XA","w":75.9,"q":50.1},{"s":"XA","w":83.2,"q":60.3},{"s":"XA","w":89.1,"q":44.7},{"s":"XA","w":100,"q":70.8},{"s":"XA","w":105,"q":56.2},{"s":"XA","w":112,"q":89.1},{"s":"XA","w":120,"q":75.9},{"s":"XA","w":132,"q":100},{"s":"XA","w":141,"q":83.2},{"s":"XA","w":151,"q":112},{"s":"XA","w":166,"q":126},{"s":"XA","w":178,"q":105},{"s":"XA","w":191,"q":141},{"s":"XA","w":200,"q":158},{"s":"XA","w":224,"q":132},{"s":"XA","w":240,"q":178},{"s":"XA","w":263,"q":200},{"s":"XA","w":282,"q":166},{"s":"XA","w":316,"q":224},{"s":"XA","w":355,"q":251},{"s":"XA","w":398,"q":240},{"s":"XA","w":447,"q":302},{"s":"XA","w":525,"q":355},{"s":"XA","w":631,"q":398},{"s":"XA","w":708,"q":501},{"s":"XA","w":70.8,"q":31.6},{"s":"XA","w":95.5,"q":39.8},{"s":"XA","w":126,"q":63.1}
]
},
"encoding":{
"x":{"field":"w","type":"quantitative","scale":{"type":"log","domain":[1,8.5e6],"nice":false},
"axis":{"values":[1,2,3,4,5,6,7,8,9,10,20,30,40,50,60,70,80,90,100,200,300,400,500,600,700,800,900,1000,2000,3000,4000,5000,6000,7000,8000,9000,10000,20000,30000,40000,50000,60000,70000,80000,90000,100000,200000,300000,400000,500000,600000,700000,800000,900000,1000000,2000000,3000000,4000000,5000000,6000000,7000000,8000000],
"labelExpr":"(abs(log(datum.value)/LN10 - round(log(datum.value)/LN10)) < 0.001 && round(log(datum.value)/LN10) % 2 == 0) ? '10' + ['⁰','¹','²','³','⁴','⁵','⁶','⁷','⁸'][round(log(datum.value)/LN10)] : ''",
"labelOverlap":false,"labelBound":false,"labelFlush":false,"labelFontSize":22,"labelColor":"#222","labelPadding":16,
"tickSize":-5,"tickColor":"#333","domainColor":"#333","grid":false,
"title":"Dimensionless width W*","titleFontSize":34,"titleFontWeight":"normal","titleColor":"#111","titlePadding":6}},
"y":{"field":"q","type":"quantitative","scale":{"type":"log","domain":[1,1e8],"nice":false},
"axis":{"values":[1,2,3,4,5,6,7,8,9,10,20,30,40,50,60,70,80,90,100,200,300,400,500,600,700,800,900,1000,2000,3000,4000,5000,6000,7000,8000,9000,10000,20000,30000,40000,50000,60000,70000,80000,90000,100000,200000,300000,400000,500000,600000,700000,800000,900000,1000000,2000000,3000000,4000000,5000000,6000000,7000000,8000000,9000000,10000000,20000000,30000000,40000000,50000000,60000000,70000000,80000000,90000000,100000000],
"labelExpr":"(abs(log(datum.value)/LN10 - round(log(datum.value)/LN10)) < 0.001 && round(log(datum.value)/LN10) % 2 == 0) ? '10' + ['⁰','¹','²','³','⁴','⁵','⁶','⁷','⁸'][round(log(datum.value)/LN10)] : ''",
"labelOverlap":false,"labelBound":false,"labelFlush":false,"labelFontSize":22,"labelColor":"#222","labelPadding":9,
"tickSize":-5,"tickColor":"#333","domainColor":"#333","grid":false,
"title":"Dimensionless discharge Q*","titleFontSize":34,"titleFontWeight":"normal","titleColor":"#111","titlePadding":5}}
},
"layer":[
{"data":{"name":"rects"},"mark":{"type":"rect"},
"encoding":{
"x2":{"field":"w2"},
"y2":{"field":"q2"},
"color":{"field":"s","type":"nominal","scale":{"domain":["EA","XA","EB","XB","TR","TC"],"range":["#5db52b","#f47b3f","#58b030","#f26d3b","#b5d3ed","#e5e5e5"]}}}},
{"data":{"name":"labels"},"mark":{"type":"text","align":"left","baseline":"middle","fontSize":15,"color":"#222","font":"Liberation Sans"},
"encoding":{"text":{"field":"label"}}},
{"data":{"name":"alluvial"},"mark":{"type":"point","filled":true,"opacity":1,"strokeWidth":1.3},
"encoding":{
"size":{"value":1600},
"color":{"field":"s","type":"nominal","scale":{"domain":["EA","XA","EB","XB","TR","TC"],"range":["#5db52b","#f47b3f","#58b030","#f26d3b","#b5d3ed","#e5e5e5"]},
"legend":{"title":null,"orient":"none","legendX":19,"legendY":13,"labelExpr":"{'EA':'Earth alluvial rivers','XA':'Experimental alluvial rivers','EB':'Earth bedrock rivers','XB':'Experimental bedrock rivers','TR':'Titan rivers, HLS and SP','TC':'Titan climate models'}[datum.label]","symbolSize":1600,"clipHeight":19,"rowPadding":5,"labelFontSize":19,"labelOffset":4,"padding":5,"strokeColor":"#777","fillColor":"#ffffff","symbolStrokeWidth":1.3,"labelColor":"#111","labelFont":"Liberation Sans","labelLimit":0,"symbolOpacity":1}},
"shape":{"field":"s","type":"nominal","scale":{"domain":["EA","XA","EB","XB","TR","TC"],"range":["M0.19,0L0.165,0.095L0.095,0.165L0,0.19L-0.095,0.165L-0.165,0.095L-0.19,0L-0.165,-0.095L-0.095,-0.165L0,-0.19L0.095,-0.165L0.165,-0.095Z","M0.15,0L0.13,0.075L0.075,0.13L0,0.15L-0.075,0.13L-0.13,0.075L-0.15,0L-0.13,-0.075L-0.075,-0.13L0,-0.15L0.075,-0.13L0.13,-0.075Z","M-0.27,-0.27H0.27V0.27H-0.27Z","M-0.27,-0.27H0.27V0.27H-0.27Z","M-1,-0.42H1V0.42H-1Z","M-1,-0.42H1V0.42H-1Z"]}},
"stroke":{"field":"s","type":"nominal","scale":{"domain":["EA","XA","EB","XB","TR","TC"],"range":["transparent","transparent","#111111","#111111","transparent","transparent"]}}}},
{"data":{"name":"lines"},"transform":[{"filter":"datum.line != 'middle'"}],"mark":{"type":"line","color":"#6e6e6e","strokeWidth":1},
"encoding":{"detail":{"field":"line"}}},
{"data":{"name":"lines"},"transform":[{"filter":"datum.line == 'middle'"}],"mark":{"type":"line","color":"#707070","strokeWidth":2},
"encoding":{"detail":{"field":"line"}}},
{"data":{"name":"bedrock"},"mark":{"type":"point","filled":true,"opacity":1,"strokeWidth":1.3},
"encoding":{
"size":{"value":1600},
"color":{"field":"s","type":"nominal","scale":{"domain":["EA","XA","EB","XB","TR","TC"],"range":["#5db52b","#f47b3f","#58b030","#f26d3b","#b5d3ed","#e5e5e5"]}},
"shape":{"field":"s","type":"nominal","scale":{"domain":["EA","XA","EB","XB","TR","TC"],"range":["M0.19,0L0.165,0.095L0.095,0.165L0,0.19L-0.095,0.165L-0.165,0.095L-0.19,0L-0.165,-0.095L-0.095,-0.165L0,-0.19L0.095,-0.165L0.165,-0.095Z","M0.15,0L0.13,0.075L0.075,0.13L0,0.15L-0.075,0.13L-0.13,0.075L-0.15,0L-0.13,-0.075L-0.075,-0.13L0,-0.15L0.075,-0.13L0.13,-0.075Z","M-0.27,-0.27H0.27V0.27H-0.27Z","M-0.27,-0.27H0.27V0.27H-0.27Z","M-1,-0.42H1V0.42H-1Z","M-1,-0.42H1V0.42H-1Z"]}},
"stroke":{"field":"s","type":"nominal","scale":{"domain":["EA","XA","EB","XB","TR","TC"],"range":["transparent","transparent","#111111","#111111","transparent","transparent"]}}}},
{"data":{"name":"slope"},"mark":{"type":"rule","color":"#111","strokeWidth":1.5},
"encoding":{"x2":{"field":"w2"},"y2":{"field":"q2"}}},
{"data":{"name":"slopetext"},"mark":{"type":"text","align":"left","baseline":"middle","fontSize":16,"color":"#111","font":"Liberation Sans"},
"encoding":{"text":{"field":"t"}}}
]
}
